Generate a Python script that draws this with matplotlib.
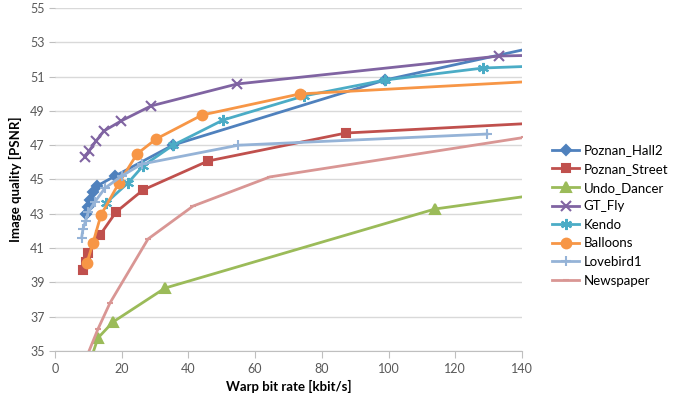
import numpy as np
import matplotlib.pyplot as plt

plt.rcParams['font.family'] = ['Lato', 'DejaVu Sans']

# values (points past 140 get clipped by the axis)
hall2_x = [9.3, 9.9, 10.5, 11.4, 12.6, 18.0, 35.4, 98.9, 160]
hall2_y = [42.99, 43.40, 43.80, 44.27, 44.62, 45.20, 47.01, 50.80, 53.4]

street_x = [8.4, 9.3, 9.9, 13.5, 18.3, 26.4, 45.9, 87.2, 170]
street_y = [39.72, 40.19, 40.71, 41.76, 43.10, 44.39, 46.08, 47.71, 48.55]

dancer_x = [10.9, 12.9, 17.4, 33.0, 113.9, 170]
dancer_y = [34.6, 35.76, 36.69, 38.67, 43.28, 44.8]

fly_x = [9.0, 10.2, 12.3, 14.7, 19.8, 28.8, 54.6, 133.1, 170]
fly_y = [46.3, 46.66, 47.24, 47.83, 48.41, 49.29, 50.57, 52.2, 52.35]

kendo_x = [15.3, 21.9, 26.4, 35.4, 50.4, 74.6, 98.9, 128.3, 170]
kendo_y = [43.63, 44.80, 45.79, 47.0, 48.47, 49.87, 50.80, 51.50, 51.8]

balloons_x = [9.6, 11.4, 13.8, 19.2, 24.6, 30.3, 44.1, 73.4, 170]
balloons_y = [40.13, 41.30, 42.93, 44.80, 46.49, 47.36, 48.76, 49.99, 51.0]

love_x = [8.0, 8.4, 9.2, 10.0, 12.0, 15.0, 20.0, 26.0, 55.0, 129.5]
love_y = [41.6, 42.1, 42.6, 43.1, 43.7, 44.5, 45.2, 45.9, 47.0, 47.65]

news_x = [9.6, 12.9, 16.5, 27.9, 41.4, 64.4, 140.5]
news_y = [34.7, 36.28, 37.80, 41.53, 43.45, 45.15, 47.45]

series = [
    ('Poznan_Hall2', hall2_x, hall2_y, '#4F81BD', 'D', 5),
    ('Poznan_Street', street_x, street_y, '#C0504D', 's', 6),
    ('Undo_Dancer', dancer_x, dancer_y, '#9BBB59', '^', 7),
    ('GT_Fly', fly_x, fly_y, '#8064A2', 'x', 7),
    ('Kendo', kendo_x, kendo_y, '#4BACC6', (6, 2, 0), 8),
    ('Balloons', balloons_x, balloons_y, '#F79646', 'o', 7),
    ('Lovebird1', love_x, love_y, '#95B3D7', '+', 7),
    ('Newspaper', news_x, news_y, '#D99694', '_', 5),
]

fig = plt.figure(figsize=(6.78, 4.0), dpi=100)
ax = fig.add_axes([0.081, 0.1225, 0.689, 0.8575])

for name, xs, ys, col, mk, ms in series:
    ax.plot(xs, ys, color=col, lw=2, marker=mk, markersize=ms,
            markeredgewidth=1.5, markeredgecolor=col, label=name)

ax.set_xlim(0, 140)
ax.set_ylim(35, 55)
ax.set_xticks(np.arange(0, 141, 20))
ax.set_yticks(np.arange(35, 56, 2))
ax.yaxis.grid(True, color='#D9D9D9', lw=1)
ax.set_axisbelow(True)
for s in ['top', 'right', 'left']:
    ax.spines[s].set_visible(False)
ax.spines['bottom'].set_color('#BFBFBF')
ax.tick_params(axis='x', colors='#BFBFBF', labelcolor='#595959', length=5, labelsize=9)
ax.tick_params(axis='y', colors='#BFBFBF', labelcolor='#595959', length=4, labelsize=9)

ax.set_xlabel('Warp bit rate [kbit/s]', fontsize=9.5, fontweight='bold', labelpad=4)
ax.set_ylabel('Image quality [PSNR]', fontsize=9.5, fontweight='bold', labelpad=6)

fig.legend(loc='upper left', bbox_to_anchor=(0.806, 0.652), frameon=False,
           fontsize=9.5, handlelength=2.1, labelspacing=0.5, handletextpad=0.3,
           borderaxespad=0)

fig.savefig('out.png', dpi=100)
